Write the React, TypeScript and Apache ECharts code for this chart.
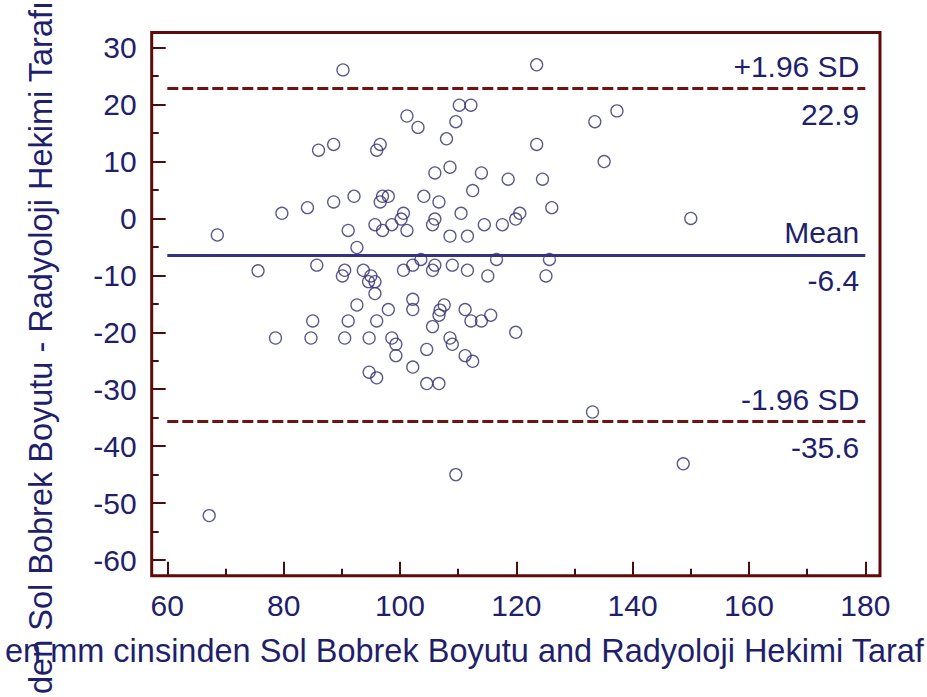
import React, { useEffect, useRef } from "react";
import * as echarts from "echarts";

// Average of the two measurements (x) and their difference (y)
const meanValues: number[] = [
  68.6, 67.2, 75.6, 78.6, 79.7, 84.1, 84.7, 85.0, 85.7, 86.0,
  88.6, 88.6, 90.2, 91.1, 92.1, 92.6, 90.5, 90.1, 93.7, 95.0,
  94.6, 95.7, 95.7, 92.6, 91.1, 90.5, 94.7, 94.7, 96.0, 96.0,
  98.0, 98.6, 99.3, 99.3, 95.7, 97.0, 98.6, 96.6, 97.0, 98.0,
  96.0, 96.6, 100.6, 100.2, 101.2, 101.2, 103.1, 100.6, 102.2, 103.6,
  102.2, 102.2, 102.2, 104.6, 104.6, 106.7, 105.6, 106.7, 106.9, 107.6,
  106.0, 105.6, 109.0, 106.0, 105.6, 104.1, 106.7, 106.0, 108.6, 108.0,
  109.6, 110.2, 112.2, 108.6, 111.6, 110.5, 112.5, 114.0, 114.5, 111.6,
  108.6, 109.0, 111.2, 112.5, 111.2, 112.2, 114.0, 115.6, 115.1, 116.6,
  117.6, 118.6, 119.9, 120.6, 119.9, 109.6, 123.5, 123.5, 124.5, 126.1,
  125.7, 125.1, 133.1, 133.5, 135.1, 137.3, 150.0, 148.7,
];
const diffValues: number[] = [
  -2.9, -52.2, -9.2, -21.0, 0.9, 1.9, -21.0, -18.0, -8.2, 12.0,
  13.0, 2.9, 26.1, -2.1, 3.9, -5.1, -9.1, -10.1, -9.1, -10.1,
  -11.1, -11.1, -13.2, -15.2, -18.0, -21.0, -21.0, -27.0, -28.0, -18.0,
  -16.0, -21.0, -22.1, -24.1, -1.1, -2.1, -1.1, 2.9, 3.9, 3.9,
  12.0, 13.0, 0.9, -0.1, -2.1, 18.0, 16.0, -9.1, -8.2, -7.2,
  -14.2, -16.0, -26.1, -23.0, -29.0, -29.0, -19.0, -17.0, -16.1, -15.2,
  -8.2, -9.1, -8.2, -0.1, -1.1, 3.9, 2.9, 8.0, 9.0, 14.0,
  17.0, 19.9, 19.9, -3.1, -3.1, 0.9, 4.9, 8.0, -1.1, -9.1,
  -21.0, -22.1, -24.1, -25.1, -16.0, -18.0, -18.0, -17.0, -10.1, -7.2,
  -1.1, 6.9, -0.1, 0.9, -20.0, -45.0, 27.0, 13.0, 6.9, 1.9,
  -7.2, -10.1, -34.0, 17.0, 10.0, 18.9, 0.0, -43.1,
];

const meanDiff = -6.4;
const upperLimit = 22.9;
const lowerLimit = -35.6;
const lineNames = ["+1.96 SD", "Mean", "-1.96 SD"];
const lineValues = ["22.9", "-6.4", "-35.6"];

const xMin = 60, xMax = 180, xStep = 20;
const yMin = -60, yMax = 30, yStep = 10;

const xTitle = "en mm cinsinden Sol Bobrek Boyutu and Radyoloji Hekimi Taraf";
const yTitle = "den Sol Bobrek Boyutu - Radyoloji Hekimi Tarafı";

const NAVY = "#1f1f6c";
const MAROON = "#5e0b0b";
const TICK = "#4a0c0c";
const FONT = "'Liberation Sans', Arial, sans-serif";

export default function App() {
  const ref = useRef<HTMLDivElement>(null);
  useEffect(() => {
    if (!ref.current) return;
    const chart = echarts.init(ref.current, null, { renderer: "svg" });
    const pts = meanValues.map((x, i) => [x, diffValues[i]]);
    const lbl = (text: string, pos: string, dist: number[]) => ({
      show: true,
      position: pos,
      formatter: text,
      color: NAVY,
      fontSize: 30,
      fontFamily: FONT,
      distance: dist,
    });
    const lineItem = (y: number, name: string, value: string, color: string, dashed: boolean) => [
      [
        {
          coord: [xMin, y],
          lineStyle: { color, width: 3, type: dashed ? [11, 4] : "solid" },
          label: lbl(name, "insideEndTop", [6, 7]),
        },
        { coord: [xMax, y] },
      ],
      [
        {
          coord: [xMin, y],
          lineStyle: { color: "rgba(0,0,0,0)", width: 0 },
          label: lbl(value, "insideEndBottom", [6, 11]),
        },
        { coord: [xMax, y] },
      ],
    ];
    const axisCommon = {
      type: "value" as const,
      axisLine: { show: false, onZero: false },
      axisTick: { show: true, inside: true, length: 14, lineStyle: { color: TICK, width: 2 } },
      minorTick: { show: true, splitNumber: 2, length: 7, lineStyle: { color: TICK, width: 2 } },
      splitLine: { show: false },
      minorSplitLine: { show: false },
      axisLabel: { color: NAVY, fontSize: 30, fontFamily: FONT, margin: 15 },
    };
    chart.setOption({
      animation: false,
      backgroundColor: "#ffffff",
      grid: { left: 167.3, right: 61.7, top: 47.7, bottom: 137, containLabel: false },
      xAxis: { ...axisCommon, min: xMin, max: xMax, interval: xStep, offset: 15.7 },
      yAxis: { ...axisCommon, min: yMin, max: yMax, interval: yStep, offset: 15.6 },
      graphic: [
        {
          type: "rect",
          shape: { x: 151.7, y: 32.5, width: 728.3, height: 543.2 },
          style: { fill: "none", stroke: MAROON, lineWidth: 3 },
          z: 100,
          silent: true,
        },
        {
          type: "text",
          x: 5,
          y: 651,
          style: { text: xTitle, fill: NAVY, font: `32.5px ${FONT}`, align: "left", verticalAlign: "middle" },
          silent: true,
        },
        {
          type: "text",
          x: 41,
          y: 694,
          rotation: Math.PI / 2,
          style: { text: yTitle, fill: NAVY, font: `32.5px ${FONT}`, align: "left", verticalAlign: "middle" },
          silent: true,
        },
      ],
      series: [
        {
          type: "scatter",
          data: pts,
          symbol: "circle",
          symbolSize: 12,
          itemStyle: { color: "rgba(0,0,0,0)", borderColor: "#2e2e6e", borderWidth: 1.3 },
          z: 3,
          markLine: {
            silent: true,
            symbol: ["none", "none"],
            animation: false,
            data: [
              ...lineItem(upperLimit, lineNames[0], lineValues[0], "#6e1212", true),
              ...lineItem(meanDiff, lineNames[1], lineValues[1], "#333380", false),
              ...lineItem(lowerLimit, lineNames[2], lineValues[2], "#6e1212", true),
            ],
          },
        },
      ],
    });
    return () => chart.dispose();
  }, []);
  return (
    <div
      ref={ref}
      style={{ position: "fixed", left: 0, top: 0, width: 927, height: 697, background: "#fff" }}
    />
  );
}
